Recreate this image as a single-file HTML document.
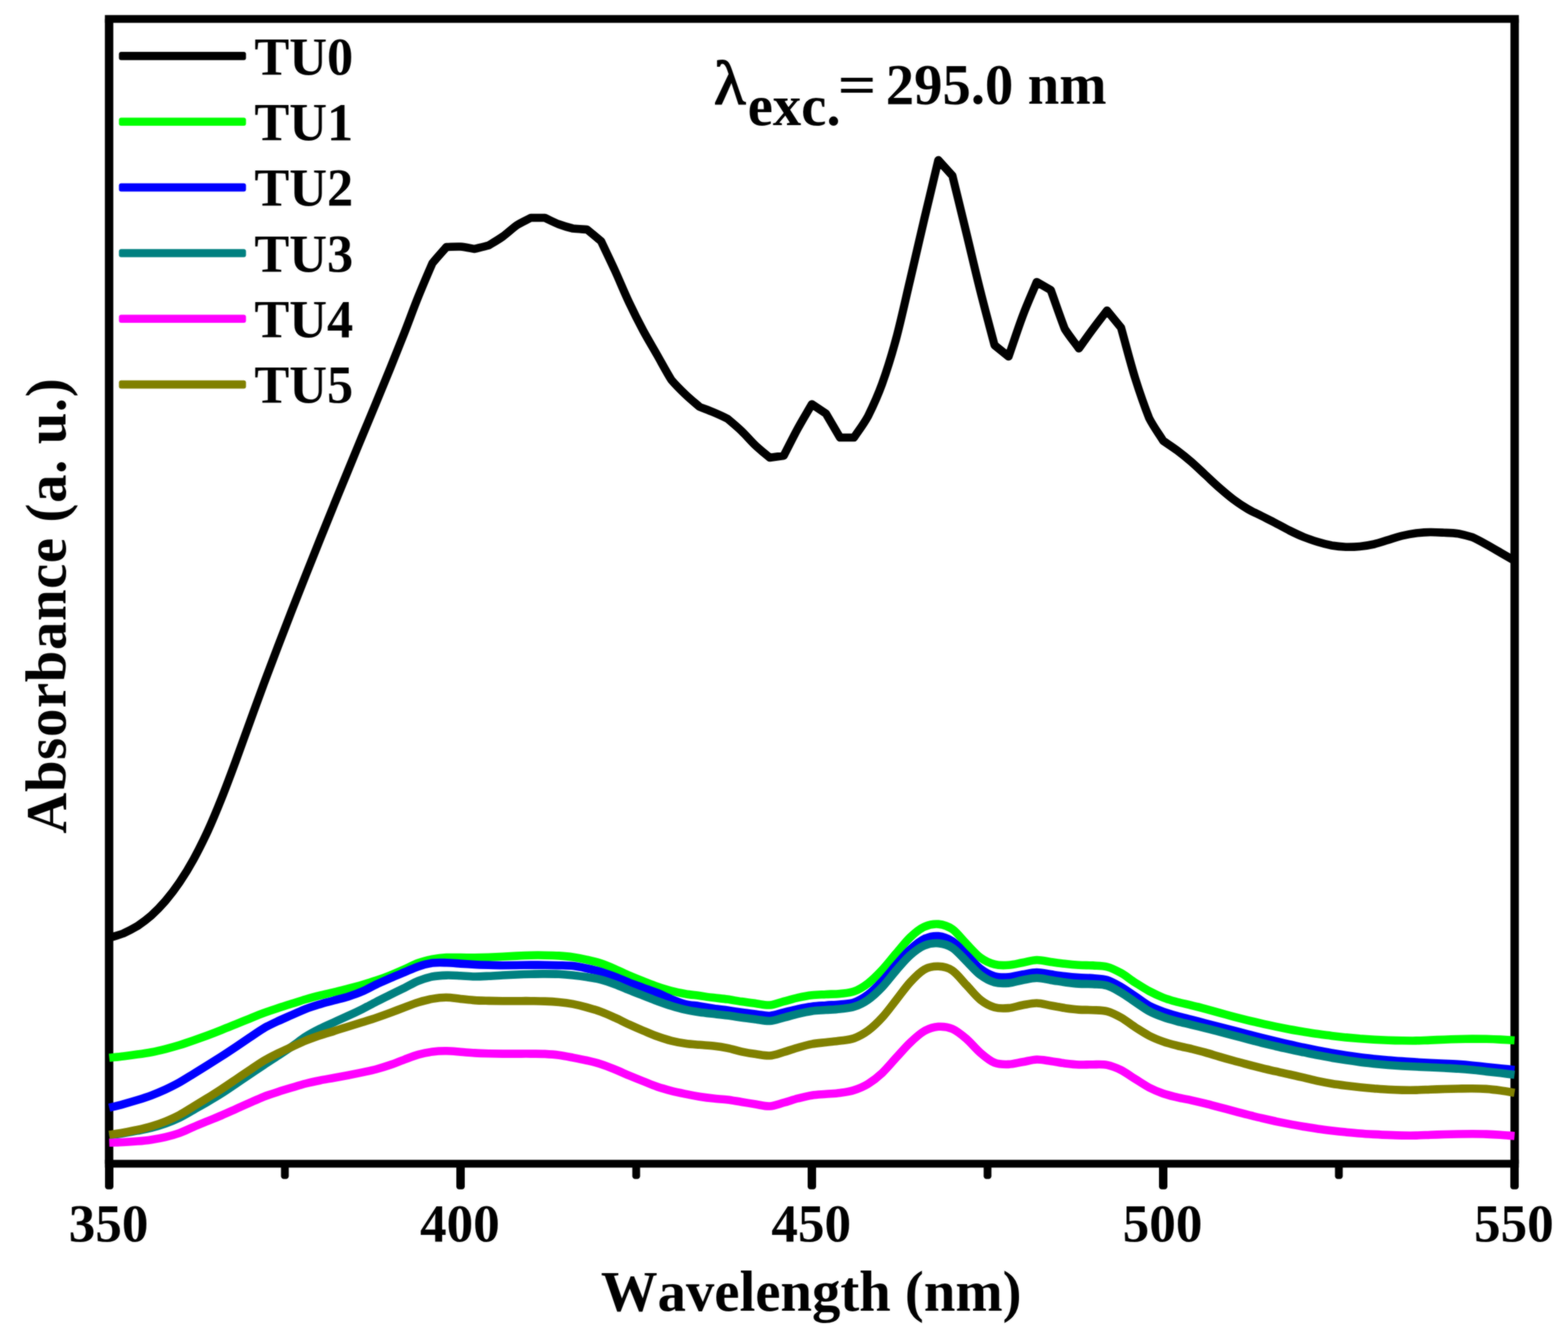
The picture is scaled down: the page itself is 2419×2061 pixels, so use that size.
<!DOCTYPE html>
<html lang="en"><head><meta charset="utf-8"><title>Emission spectra TU0-TU5</title>
<style>html,body{margin:0;padding:0;background:#fff;width:2419px;height:2061px;overflow:hidden}svg{display:block}text{font-family:"Liberation Serif","DejaVu Serif",serif;font-weight:bold;fill:#000;font-kerning:none;font-variant-ligatures:none}.c{fill:none;stroke-linejoin:round;stroke-linecap:butt}</style></head><body>
<svg xmlns="http://www.w3.org/2000/svg" width="2419" height="2061" viewBox="0 0 2419 2061">
<rect width="2419" height="2061" fill="#fff"/>
<defs><filter id="soft" x="0" y="0" width="100%" height="100%" filterUnits="userSpaceOnUse" primitiveUnits="userSpaceOnUse" color-interpolation-filters="sRGB"><feGaussianBlur stdDeviation="0.9" result="b"/><feComposite in="b" in2="SourceGraphic" operator="arithmetic" k1="0" k2="0.55" k3="0.45" k4="0"/></filter></defs>
<g id="plot" filter="url(#soft)">
<g id="frame" stroke="#000" fill="none">
<line x1="161.8" y1="29.3" x2="2343.2" y2="29.3" stroke-width="12.0"/>
<line x1="161.8" y1="1795.2" x2="2343.2" y2="1795.2" stroke-width="12.0"/>
<line x1="168.3" y1="29.3" x2="168.3" y2="1795.2" stroke-width="13.0"/>
<line x1="2336.7" y1="29.3" x2="2336.7" y2="1795.2" stroke-width="13.0"/>
</g>
<g id="ticks" fill="#000">
<rect x="162.0" y="1795.2" width="13.0" height="39.6" rx="4.5"/>
<rect x="704.0" y="1795.2" width="13.0" height="39.6" rx="4.5"/>
<rect x="1246.0" y="1795.2" width="13.0" height="39.6" rx="4.5"/>
<rect x="1788.0" y="1795.2" width="13.0" height="39.6" rx="4.5"/>
<rect x="2330.0" y="1795.2" width="13.0" height="39.6" rx="4.5"/>
<rect x="433.5" y="1795.2" width="12" height="23.6" rx="4.5"/>
<rect x="975.5" y="1795.2" width="12" height="23.6" rx="4.5"/>
<rect x="1517.5" y="1795.2" width="12" height="23.6" rx="4.5"/>
<rect x="2059.5" y="1795.2" width="12" height="23.6" rx="4.5"/>
</g>
<g id="curves" class="c" stroke-width="12.6">
<path stroke="#000" d="M168.5,1446.8 C175.7,1444.6 183.0,1442.8 190.2,1440.0 C197.4,1436.7 204.6,1433.1 211.9,1428.7 C219.1,1423.8 226.3,1418.5 233.5,1412.2 C240.8,1405.6 248.0,1398.3 255.2,1389.9 C262.4,1381.4 269.7,1372.0 276.9,1361.3 C284.1,1350.6 291.4,1338.9 298.6,1325.7 C305.8,1312.6 313.0,1298.2 320.3,1282.5 C327.5,1266.7 334.7,1249.3 341.9,1231.3 C349.2,1213.2 356.4,1193.7 363.6,1174.2 C370.8,1154.7 378.1,1134.2 385.3,1114.3 C392.5,1094.4 399.8,1074.3 407.0,1054.8 C414.2,1035.4 421.4,1016.3 428.7,997.5 C435.9,978.6 443.1,960.0 450.3,941.5 C457.6,923.0 464.8,904.7 472.0,886.5 C479.2,868.3 486.5,850.2 493.7,832.2 C500.9,814.2 508.2,796.3 515.4,778.5 C522.6,760.8 529.8,743.1 537.1,725.5 C544.3,707.9 551.5,690.5 558.7,673.0 C566.0,655.6 573.2,638.3 580.4,620.8 C587.6,603.3 594.9,585.8 602.1,568.0 C609.3,550.1 616.6,532.1 623.8,513.6 C631.0,495.2 638.2,475.2 645.5,457.2 C652.7,439.3 659.9,422.5 667.1,406.0 C674.4,397.0 681.6,389.3 688.8,381.0 C696.0,380.8 703.3,380.2 710.5,380.5 C717.7,381.2 725.0,382.8 732.2,384.0 C739.4,382.2 746.6,380.6 753.9,378.5 C761.1,374.2 768.3,370.1 775.5,365.0 C782.8,359.8 790.0,352.7 797.2,347.5 C804.4,343.0 811.7,339.8 818.9,336.0 L840.6,336.0 C847.8,339.3 855.0,343.2 862.3,346.0 C869.5,348.7 876.7,350.8 883.9,352.5 C891.2,353.4 898.4,353.5 905.6,354.0 L927.3,372.0 C934.5,387.3 941.8,402.2 949.0,418.0 C956.2,433.8 963.4,451.7 970.7,467.0 C977.9,482.3 985.1,496.5 992.3,510.0 C999.6,523.5 1006.8,535.3 1014.0,548.0 C1021.2,560.7 1028.5,574.4 1035.7,586.0 C1042.9,594.6 1050.2,601.6 1057.4,608.5 C1064.6,615.4 1071.8,621.2 1079.1,627.5 C1086.3,630.4 1093.5,632.9 1100.7,636.0 C1108.0,639.1 1115.2,642.3 1122.4,646.0 C1129.6,652.0 1136.9,658.1 1144.1,665.0 C1151.3,671.9 1158.6,680.7 1165.8,687.5 C1173.0,694.3 1180.2,699.8 1187.5,706.0 L1209.1,703.0 C1216.4,689.0 1223.6,674.2 1230.8,661.0 C1238.0,647.8 1245.3,636.0 1252.5,623.5 L1274.2,638.0 L1295.9,675.0 L1317.5,675.0 C1324.8,664.0 1332.0,655.1 1339.2,642.0 C1346.4,627.4 1353.7,611.9 1360.9,592.0 C1368.1,571.9 1375.4,548.8 1382.6,522.0 C1389.8,495.2 1397.0,461.7 1404.3,431.0 C1411.5,400.3 1418.7,368.7 1425.9,338.0 C1433.2,307.3 1440.4,277.3 1447.6,247.0 L1469.3,271.0 C1476.5,300.7 1483.8,330.2 1491.0,360.0 C1498.2,389.8 1505.4,421.2 1512.7,450.0 C1519.9,478.8 1527.1,505.0 1534.3,532.5 L1556.0,550.0 C1563.2,529.2 1570.5,506.7 1577.7,487.5 C1584.9,468.3 1592.2,452.5 1599.4,435.0 L1621.1,447.5 C1628.3,467.5 1635.5,488.9 1642.7,507.5 C1650.0,518.9 1657.2,527.5 1664.4,537.5 C1671.6,527.5 1678.9,517.2 1686.1,507.5 C1693.3,497.8 1700.6,488.5 1707.8,479.0 L1729.5,505.5 C1736.7,531.3 1743.9,559.8 1751.1,583.0 C1758.4,606.2 1765.6,626.7 1772.8,645.0 C1780.0,659.1 1787.3,668.3 1794.5,680.0 C1801.7,685.0 1809.0,689.6 1816.2,695.0 C1823.4,700.4 1830.6,706.2 1837.9,712.5 C1845.1,718.8 1852.3,725.8 1859.5,732.5 C1866.8,739.2 1874.0,746.2 1881.2,752.5 C1888.4,758.8 1895.7,765.1 1902.9,770.5 C1910.1,775.9 1917.4,780.7 1924.6,785.0 C1931.8,789.2 1939.0,792.3 1946.3,796.0 C1953.5,799.7 1960.7,803.2 1967.9,807.0 C1975.2,810.8 1982.4,814.9 1989.6,818.5 C1996.8,822.1 2004.1,825.6 2011.3,828.5 C2018.5,831.4 2025.8,833.8 2033.0,836.0 C2040.2,838.2 2047.4,840.1 2054.7,841.5 C2061.9,842.7 2069.1,843.4 2076.3,843.8 C2083.6,843.9 2090.8,843.7 2098.0,843.0 C2105.2,842.3 2112.5,841.1 2119.7,839.5 C2126.9,837.8 2134.2,835.2 2141.4,833.0 C2148.6,830.8 2155.8,828.3 2163.1,826.5 C2170.3,824.8 2177.5,823.4 2184.7,822.5 C2192.0,821.6 2199.2,821.1 2206.4,821.0 C2213.6,820.9 2220.9,821.4 2228.1,821.8 C2235.3,822.1 2242.6,822.3 2249.8,823.2 C2257.0,824.6 2264.2,826.5 2271.5,828.8 C2278.7,832.0 2285.9,836.0 2293.1,840.0 C2300.4,844.0 2307.6,848.3 2314.8,852.5 C2322.0,856.7 2329.3,860.8 2336.5,865.0"/>
<path stroke="#00ff00" d="M168.5,1631.8 C175.7,1631.0 183.0,1630.3 190.2,1629.4 C197.4,1628.6 204.6,1627.7 211.9,1626.6 C219.1,1625.6 226.3,1624.6 233.5,1623.2 C240.8,1621.8 248.0,1620.1 255.2,1618.3 C262.4,1616.5 269.7,1614.5 276.9,1612.3 C284.1,1610.0 291.4,1607.5 298.6,1605.0 C305.8,1602.4 313.0,1599.8 320.3,1597.2 C327.5,1594.5 334.7,1591.7 341.9,1588.8 C349.2,1586.0 356.4,1583.0 363.6,1580.1 C370.8,1577.2 378.1,1574.2 385.3,1571.3 C392.5,1568.4 399.8,1565.4 407.0,1562.7 C414.2,1560.0 421.4,1557.6 428.7,1555.2 C435.9,1552.8 443.1,1550.6 450.3,1548.3 C457.6,1546.0 464.8,1543.6 472.0,1541.5 C479.2,1539.4 486.5,1537.5 493.7,1535.7 C500.9,1533.9 508.2,1532.3 515.4,1530.5 C522.6,1528.7 529.8,1527.0 537.1,1525.1 C544.3,1523.2 551.5,1521.3 558.7,1519.2 C566.0,1517.1 573.2,1515.0 580.4,1512.6 C587.6,1510.1 594.9,1507.4 602.1,1504.5 C609.3,1501.6 616.6,1498.5 623.8,1495.3 C631.0,1492.1 638.2,1488.1 645.5,1485.5 C652.7,1482.9 659.9,1481.2 667.1,1479.8 C674.4,1478.4 681.6,1477.5 688.8,1477.1 C696.0,1476.7 703.3,1477.1 710.5,1477.1 C717.7,1477.1 725.0,1477.4 732.2,1477.3 C739.4,1477.2 746.6,1477.0 753.9,1476.7 C761.1,1476.4 768.3,1476.0 775.5,1475.7 C782.8,1475.3 790.0,1474.9 797.2,1474.6 C804.4,1474.2 811.7,1473.8 818.9,1473.7 C826.1,1473.5 833.4,1473.5 840.6,1473.7 C847.8,1473.8 855.0,1473.9 862.3,1474.4 C869.5,1474.9 876.7,1475.5 883.9,1476.6 C891.2,1477.6 898.4,1479.0 905.6,1480.6 C912.8,1482.2 920.1,1483.8 927.3,1486.2 C934.5,1488.5 941.8,1491.7 949.0,1494.9 C956.2,1498.0 963.4,1501.8 970.7,1504.9 C977.9,1508.1 985.1,1510.9 992.3,1513.7 C999.6,1516.5 1006.8,1519.4 1014.0,1521.9 C1021.2,1524.4 1028.5,1526.8 1035.7,1528.6 C1042.9,1530.5 1050.2,1531.9 1057.4,1533.2 C1064.6,1534.4 1071.8,1535.1 1079.1,1536.1 C1086.3,1537.1 1093.5,1538.2 1100.7,1539.1 C1108.0,1540.0 1115.2,1540.6 1122.4,1541.6 C1129.6,1542.6 1136.9,1544.1 1144.1,1545.1 C1151.3,1546.2 1158.6,1547.1 1165.8,1548.0 C1173.0,1548.9 1180.2,1551.0 1187.5,1550.5 C1194.7,1550.0 1201.9,1546.8 1209.1,1544.9 C1216.4,1543.0 1223.6,1540.8 1230.8,1539.2 C1238.0,1537.6 1245.3,1536.1 1252.5,1535.3 C1259.7,1534.4 1267.0,1534.4 1274.2,1534.0 C1281.4,1533.6 1288.6,1533.6 1295.9,1532.9 C1303.1,1532.1 1310.3,1532.1 1317.5,1529.4 C1324.8,1526.8 1332.0,1522.4 1339.2,1516.9 C1346.4,1511.4 1353.7,1504.1 1360.9,1496.4 C1368.1,1488.7 1375.4,1479.1 1382.6,1470.7 C1389.8,1462.3 1397.0,1452.7 1404.3,1445.8 C1411.5,1439.0 1418.7,1433.0 1425.9,1429.7 C1433.2,1426.3 1440.4,1425.0 1447.6,1425.6 C1454.8,1426.3 1462.1,1428.3 1469.3,1433.4 C1476.5,1438.5 1483.8,1448.7 1491.0,1456.0 C1498.2,1463.4 1505.4,1472.1 1512.7,1477.4 C1519.9,1482.7 1527.1,1485.8 1534.3,1487.7 C1541.6,1489.6 1548.8,1489.3 1556.0,1488.8 C1563.2,1488.4 1570.5,1486.3 1577.7,1485.0 C1584.9,1483.7 1592.2,1481.2 1599.4,1481.0 C1606.6,1480.8 1613.8,1482.9 1621.1,1483.9 C1628.3,1484.9 1635.5,1486.0 1642.7,1486.8 C1650.0,1487.7 1657.2,1488.4 1664.4,1488.8 C1671.6,1489.3 1678.9,1489.0 1686.1,1489.4 C1693.3,1489.9 1700.6,1489.6 1707.8,1491.5 C1715.0,1493.4 1722.2,1497.0 1729.5,1501.1 C1736.7,1505.1 1743.9,1511.1 1751.1,1515.7 C1758.4,1520.3 1765.6,1525.0 1772.8,1528.9 C1780.0,1532.7 1787.3,1536.2 1794.5,1539.0 C1801.7,1541.8 1809.0,1543.7 1816.2,1545.7 C1823.4,1547.6 1830.6,1549.0 1837.9,1550.8 C1845.1,1552.5 1852.3,1554.4 1859.5,1556.3 C1866.8,1558.3 1874.0,1560.4 1881.2,1562.4 C1888.4,1564.4 1895.7,1566.4 1902.9,1568.3 C1910.1,1570.1 1917.4,1572.0 1924.6,1573.8 C1931.8,1575.6 1939.0,1577.3 1946.3,1578.9 C1953.5,1580.6 1960.7,1582.1 1967.9,1583.6 C1975.2,1585.1 1982.4,1586.6 1989.6,1588.0 C1996.8,1589.3 2004.1,1590.5 2011.3,1591.7 C2018.5,1592.9 2025.8,1594.1 2033.0,1595.1 C2040.2,1596.1 2047.4,1597.1 2054.7,1597.9 C2061.9,1598.8 2069.1,1599.6 2076.3,1600.4 C2083.6,1601.1 2090.8,1601.7 2098.0,1602.3 C2105.2,1602.8 2112.5,1603.3 2119.7,1603.7 C2126.9,1604.1 2134.2,1604.4 2141.4,1604.7 C2148.6,1605.0 2155.8,1605.2 2163.1,1605.3 C2170.3,1605.4 2177.5,1605.5 2184.7,1605.4 C2192.0,1605.3 2199.2,1604.8 2206.4,1604.6 C2213.6,1604.3 2220.9,1604.0 2228.1,1603.7 C2235.3,1603.4 2242.6,1603.2 2249.8,1603.0 C2257.0,1602.8 2264.2,1602.6 2271.5,1602.5 C2278.7,1602.5 2285.9,1602.5 2293.1,1602.7 C2300.4,1602.9 2307.6,1603.2 2314.8,1603.6 C2322.0,1604.0 2329.3,1604.5 2336.5,1605.0"/>
<path stroke="#0000ff" d="M168.5,1708.8 C175.7,1707.0 183.0,1705.2 190.2,1703.3 C197.4,1701.3 204.6,1699.2 211.9,1697.0 C219.1,1694.8 226.3,1692.6 233.5,1689.8 C240.8,1687.1 248.0,1684.1 255.2,1680.8 C262.4,1677.4 269.7,1673.8 276.9,1669.8 C284.1,1665.7 291.4,1661.0 298.6,1656.6 C305.8,1652.1 313.0,1647.7 320.3,1643.2 C327.5,1638.7 334.7,1634.1 341.9,1629.5 C349.2,1624.8 356.4,1620.0 363.6,1615.2 C370.8,1610.3 378.1,1605.4 385.3,1600.6 C392.5,1595.7 399.8,1590.4 407.0,1586.2 C414.2,1582.0 421.4,1578.7 428.7,1575.3 C435.9,1571.9 443.1,1568.9 450.3,1565.7 C457.6,1562.6 464.8,1559.1 472.0,1556.3 C479.2,1553.6 486.5,1551.4 493.7,1549.2 C500.9,1547.0 508.2,1545.3 515.4,1543.3 C522.6,1541.3 529.8,1539.7 537.1,1537.4 C544.3,1535.1 551.5,1532.8 558.7,1529.6 C566.0,1526.5 573.2,1522.1 580.4,1518.7 C587.6,1515.2 594.9,1512.2 602.1,1509.0 C609.3,1505.9 616.6,1502.9 623.8,1499.9 C631.0,1496.9 638.2,1493.4 645.5,1491.0 C652.7,1488.6 659.9,1486.6 667.1,1485.6 C674.4,1484.6 681.6,1485.0 688.8,1485.2 C696.0,1485.4 703.3,1486.1 710.5,1486.6 C717.7,1487.1 725.0,1487.6 732.2,1488.0 C739.4,1488.4 746.6,1488.6 753.9,1488.8 C761.1,1489.0 768.3,1489.2 775.5,1489.2 C782.8,1489.2 790.0,1489.1 797.2,1489.0 C804.4,1488.9 811.7,1488.7 818.9,1488.6 C826.1,1488.6 833.4,1488.7 840.6,1488.8 C847.8,1488.9 855.0,1489.0 862.3,1489.2 C869.5,1489.4 876.7,1489.4 883.9,1490.1 C891.2,1490.9 898.4,1492.5 905.6,1494.0 C912.8,1495.5 920.1,1497.2 927.3,1499.3 C934.5,1501.5 941.8,1504.2 949.0,1506.9 C956.2,1509.7 963.4,1513.0 970.7,1515.8 C977.9,1518.6 985.1,1521.1 992.3,1523.8 C999.6,1526.4 1006.8,1528.7 1014.0,1531.6 C1021.2,1534.6 1028.5,1538.5 1035.7,1541.3 C1042.9,1544.2 1050.2,1547.2 1057.4,1549.0 C1064.6,1550.8 1071.8,1551.0 1079.1,1552.2 C1086.3,1553.3 1093.5,1554.5 1100.7,1555.6 C1108.0,1556.7 1115.2,1557.6 1122.4,1558.6 C1129.6,1559.6 1136.9,1560.7 1144.1,1561.7 C1151.3,1562.7 1158.6,1563.6 1165.8,1564.5 C1173.0,1565.4 1180.2,1567.4 1187.5,1567.0 C1194.7,1566.6 1201.9,1563.6 1209.1,1561.9 C1216.4,1560.1 1223.6,1558.1 1230.8,1556.6 C1238.0,1555.1 1245.3,1553.6 1252.5,1552.7 C1259.7,1551.8 1267.0,1551.5 1274.2,1551.0 C1281.4,1550.4 1288.6,1550.2 1295.9,1549.4 C1303.1,1548.7 1310.3,1549.0 1317.5,1546.5 C1324.8,1544.0 1332.0,1539.8 1339.2,1534.4 C1346.4,1529.0 1353.7,1521.5 1360.9,1513.9 C1368.1,1506.3 1375.4,1496.8 1382.6,1488.5 C1389.8,1480.3 1397.0,1471.3 1404.3,1464.7 C1411.5,1458.0 1418.7,1451.8 1425.9,1448.4 C1433.2,1445.0 1440.4,1443.5 1447.6,1444.1 C1454.8,1444.8 1462.1,1447.3 1469.3,1452.1 C1476.5,1457.0 1483.8,1465.9 1491.0,1473.0 C1498.2,1480.1 1505.4,1489.1 1512.7,1494.6 C1519.9,1500.1 1527.1,1503.9 1534.3,1506.0 C1541.6,1508.1 1548.8,1507.7 1556.0,1507.3 C1563.2,1506.8 1570.5,1504.5 1577.7,1503.3 C1584.9,1502.1 1592.2,1500.0 1599.4,1500.0 C1606.6,1500.0 1613.8,1502.1 1621.1,1503.1 C1628.3,1504.1 1635.5,1505.2 1642.7,1506.0 C1650.0,1506.9 1657.2,1507.6 1664.4,1508.1 C1671.6,1508.6 1678.9,1508.4 1686.1,1509.1 C1693.3,1509.7 1700.6,1509.6 1707.8,1511.8 C1715.0,1514.1 1722.2,1518.3 1729.5,1522.4 C1736.7,1526.6 1743.9,1531.9 1751.1,1536.7 C1758.4,1541.6 1765.6,1547.4 1772.8,1551.4 C1780.0,1555.3 1787.3,1558.0 1794.5,1560.6 C1801.7,1563.3 1809.0,1565.3 1816.2,1567.3 C1823.4,1569.4 1830.6,1571.0 1837.9,1572.9 C1845.1,1574.8 1852.3,1576.6 1859.5,1578.5 C1866.8,1580.4 1874.0,1582.3 1881.2,1584.2 C1888.4,1586.0 1895.7,1587.9 1902.9,1589.7 C1910.1,1591.6 1917.4,1593.5 1924.6,1595.3 C1931.8,1597.2 1939.0,1599.0 1946.3,1600.8 C1953.5,1602.6 1960.7,1604.4 1967.9,1606.1 C1975.2,1607.9 1982.4,1609.6 1989.6,1611.2 C1996.8,1612.9 2004.1,1614.4 2011.3,1616.0 C2018.5,1617.5 2025.8,1619.0 2033.0,1620.4 C2040.2,1621.8 2047.4,1623.1 2054.7,1624.4 C2061.9,1625.6 2069.1,1626.8 2076.3,1627.9 C2083.6,1629.0 2090.8,1630.0 2098.0,1630.9 C2105.2,1631.8 2112.5,1632.6 2119.7,1633.4 C2126.9,1634.1 2134.2,1634.8 2141.4,1635.5 C2148.6,1636.1 2155.8,1636.6 2163.1,1637.1 C2170.3,1637.7 2177.5,1638.1 2184.7,1638.6 C2192.0,1639.0 2199.2,1639.4 2206.4,1639.8 C2213.6,1640.2 2220.9,1640.4 2228.1,1640.8 C2235.3,1641.1 2242.6,1641.4 2249.8,1641.9 C2257.0,1642.4 2264.2,1643.0 2271.5,1643.7 C2278.7,1644.4 2285.9,1645.2 2293.1,1645.9 C2300.4,1646.7 2307.6,1647.4 2314.8,1648.2 C2322.0,1648.9 2329.3,1649.7 2336.5,1650.5"/>
<path stroke="#008080" d="M168.5,1751.5 C175.7,1750.4 183.0,1749.4 190.2,1748.2 C197.4,1747.0 204.6,1745.8 211.9,1744.4 C219.1,1743.0 226.3,1741.7 233.5,1739.9 C240.8,1738.0 248.0,1735.9 255.2,1733.3 C262.4,1730.7 269.7,1727.8 276.9,1724.3 C284.1,1720.8 291.4,1716.3 298.6,1712.2 C305.8,1708.1 313.0,1704.1 320.3,1699.8 C327.5,1695.6 334.7,1691.4 341.9,1686.8 C349.2,1682.2 356.4,1677.1 363.6,1672.3 C370.8,1667.4 378.1,1662.4 385.3,1657.6 C392.5,1652.7 399.8,1647.8 407.0,1643.0 C414.2,1638.2 421.4,1633.6 428.7,1628.8 C435.9,1624.0 443.1,1619.3 450.3,1614.3 C457.6,1609.3 464.8,1603.5 472.0,1598.9 C479.2,1594.4 486.5,1590.6 493.7,1587.0 C500.9,1583.3 508.2,1580.3 515.4,1577.0 C522.6,1573.7 529.8,1570.5 537.1,1567.1 C544.3,1563.8 551.5,1560.4 558.7,1556.8 C566.0,1553.1 573.2,1549.2 580.4,1545.5 C587.6,1541.8 594.9,1538.3 602.1,1534.7 C609.3,1531.1 616.6,1527.6 623.8,1524.1 C631.0,1520.5 638.2,1516.0 645.5,1513.1 C652.7,1510.2 659.9,1507.9 667.1,1506.5 C674.4,1505.1 681.6,1504.8 688.8,1504.6 C696.0,1504.4 703.3,1504.9 710.5,1505.2 C717.7,1505.6 725.0,1506.4 732.2,1506.5 C739.4,1506.6 746.6,1506.1 753.9,1505.7 C761.1,1505.4 768.3,1504.9 775.5,1504.5 C782.8,1504.1 790.0,1503.8 797.2,1503.5 C804.4,1503.2 811.7,1502.9 818.9,1502.7 C826.1,1502.5 833.4,1502.3 840.6,1502.4 C847.8,1502.4 855.0,1502.4 862.3,1502.8 C869.5,1503.2 876.7,1503.8 883.9,1504.5 C891.2,1505.3 898.4,1506.2 905.6,1507.3 C912.8,1508.4 920.1,1509.4 927.3,1511.3 C934.5,1513.2 941.8,1515.8 949.0,1518.5 C956.2,1521.2 963.4,1524.6 970.7,1527.5 C977.9,1530.4 985.1,1533.1 992.3,1535.9 C999.6,1538.7 1006.8,1541.6 1014.0,1544.3 C1021.2,1546.9 1028.5,1549.6 1035.7,1551.8 C1042.9,1554.0 1050.2,1556.1 1057.4,1557.7 C1064.6,1559.3 1071.8,1560.5 1079.1,1561.6 C1086.3,1562.6 1093.5,1563.3 1100.7,1564.1 C1108.0,1564.9 1115.2,1565.6 1122.4,1566.6 C1129.6,1567.5 1136.9,1568.7 1144.1,1569.7 C1151.3,1570.7 1158.6,1571.6 1165.8,1572.5 C1173.0,1573.4 1180.2,1575.4 1187.5,1575.0 C1194.7,1574.6 1201.9,1571.7 1209.1,1569.9 C1216.4,1568.1 1223.6,1565.8 1230.8,1564.1 C1238.0,1562.4 1245.3,1560.7 1252.5,1559.7 C1259.7,1558.7 1267.0,1558.6 1274.2,1558.0 C1281.4,1557.5 1288.6,1557.3 1295.9,1556.4 C1303.1,1555.6 1310.3,1555.5 1317.5,1553.1 C1324.8,1550.8 1332.0,1547.4 1339.2,1542.3 C1346.4,1537.3 1353.7,1530.5 1360.9,1522.9 C1368.1,1515.4 1375.4,1505.2 1382.6,1497.0 C1389.8,1488.8 1397.0,1480.0 1404.3,1473.6 C1411.5,1467.2 1418.7,1461.8 1425.9,1458.7 C1433.2,1455.6 1440.4,1454.5 1447.6,1455.1 C1454.8,1455.7 1462.1,1457.5 1469.3,1462.2 C1476.5,1466.8 1483.8,1475.9 1491.0,1482.9 C1498.2,1490.0 1505.4,1498.9 1512.7,1504.3 C1519.9,1509.7 1527.1,1513.5 1534.3,1515.5 C1541.6,1517.6 1548.8,1517.2 1556.0,1516.6 C1563.2,1516.0 1570.5,1513.3 1577.7,1512.0 C1584.9,1510.7 1592.2,1508.8 1599.4,1508.8 C1606.6,1508.7 1613.8,1510.8 1621.1,1511.9 C1628.3,1512.9 1635.5,1514.3 1642.7,1515.3 C1650.0,1516.2 1657.2,1517.1 1664.4,1517.6 C1671.6,1518.1 1678.9,1517.7 1686.1,1518.2 C1693.3,1518.7 1700.6,1518.3 1707.8,1520.5 C1715.0,1522.6 1722.2,1527.0 1729.5,1531.2 C1736.7,1535.4 1743.9,1541.0 1751.1,1545.7 C1758.4,1550.5 1765.6,1556.0 1772.8,1559.9 C1780.0,1563.8 1787.3,1566.5 1794.5,1569.2 C1801.7,1571.8 1809.0,1573.7 1816.2,1575.6 C1823.4,1577.5 1830.6,1579.0 1837.9,1580.8 C1845.1,1582.6 1852.3,1584.4 1859.5,1586.2 C1866.8,1588.0 1874.0,1589.8 1881.2,1591.7 C1888.4,1593.5 1895.7,1595.4 1902.9,1597.3 C1910.1,1599.2 1917.4,1601.2 1924.6,1603.1 C1931.8,1605.0 1939.0,1607.0 1946.3,1608.8 C1953.5,1610.6 1960.7,1612.3 1967.9,1614.0 C1975.2,1615.7 1982.4,1617.2 1989.6,1618.8 C1996.8,1620.4 2004.1,1621.9 2011.3,1623.4 C2018.5,1624.9 2025.8,1626.5 2033.0,1627.9 C2040.2,1629.3 2047.4,1630.6 2054.7,1631.9 C2061.9,1633.1 2069.1,1634.3 2076.3,1635.4 C2083.6,1636.5 2090.8,1637.5 2098.0,1638.4 C2105.2,1639.3 2112.5,1640.1 2119.7,1640.9 C2126.9,1641.7 2134.2,1642.4 2141.4,1643.0 C2148.6,1643.6 2155.8,1644.1 2163.1,1644.5 C2170.3,1644.9 2177.5,1645.2 2184.7,1645.5 C2192.0,1645.8 2199.2,1646.2 2206.4,1646.5 C2213.6,1646.8 2220.9,1647.1 2228.1,1647.5 C2235.3,1647.9 2242.6,1648.2 2249.8,1648.7 C2257.0,1649.2 2264.2,1649.8 2271.5,1650.5 C2278.7,1651.2 2285.9,1652.1 2293.1,1652.9 C2300.4,1653.7 2307.6,1654.5 2314.8,1655.3 C2322.0,1656.2 2329.3,1657.1 2336.5,1658.0"/>
<path stroke="#ff00ff" d="M168.5,1762.8 C175.7,1762.5 183.0,1762.4 190.2,1762.0 C197.4,1761.7 204.6,1761.3 211.9,1760.6 C219.1,1760.0 226.3,1759.3 233.5,1758.2 C240.8,1757.1 248.0,1755.8 255.2,1754.1 C262.4,1752.4 269.7,1750.5 276.9,1747.9 C284.1,1745.3 291.4,1741.5 298.6,1738.5 C305.8,1735.4 313.0,1732.5 320.3,1729.5 C327.5,1726.5 334.7,1723.7 341.9,1720.6 C349.2,1717.5 356.4,1714.2 363.6,1711.0 C370.8,1707.7 378.1,1704.5 385.3,1701.3 C392.5,1698.1 399.8,1694.7 407.0,1691.8 C414.2,1689.0 421.4,1686.7 428.7,1684.4 C435.9,1682.0 443.1,1679.9 450.3,1677.8 C457.6,1675.6 464.8,1673.3 472.0,1671.5 C479.2,1669.6 486.5,1668.1 493.7,1666.7 C500.9,1665.2 508.2,1664.1 515.4,1662.7 C522.6,1661.4 529.8,1660.1 537.1,1658.7 C544.3,1657.3 551.5,1655.9 558.7,1654.4 C566.0,1652.8 573.2,1651.4 580.4,1649.5 C587.6,1647.5 594.9,1645.3 602.1,1642.8 C609.3,1640.3 616.6,1637.2 623.8,1634.6 C631.0,1631.9 638.2,1628.9 645.5,1626.9 C652.7,1624.9 659.9,1623.4 667.1,1622.5 C674.4,1621.5 681.6,1621.2 688.8,1621.3 C696.0,1621.3 703.3,1622.2 710.5,1622.8 C717.7,1623.3 725.0,1624.0 732.2,1624.4 C739.4,1624.8 746.6,1625.0 753.9,1625.2 C761.1,1625.4 768.3,1625.5 775.5,1625.6 C782.8,1625.7 790.0,1625.6 797.2,1625.6 C804.4,1625.6 811.7,1625.5 818.9,1625.6 C826.1,1625.7 833.4,1625.5 840.6,1625.9 C847.8,1626.3 855.0,1626.8 862.3,1627.8 C869.5,1628.7 876.7,1630.2 883.9,1631.6 C891.2,1633.0 898.4,1634.4 905.6,1636.0 C912.8,1637.7 920.1,1639.4 927.3,1641.7 C934.5,1644.0 941.8,1647.0 949.0,1649.9 C956.2,1652.8 963.4,1656.2 970.7,1659.3 C977.9,1662.3 985.1,1665.2 992.3,1668.0 C999.6,1670.9 1006.8,1674.0 1014.0,1676.5 C1021.2,1678.9 1028.5,1680.9 1035.7,1682.8 C1042.9,1684.6 1050.2,1686.1 1057.4,1687.6 C1064.6,1689.1 1071.8,1690.5 1079.1,1691.7 C1086.3,1692.8 1093.5,1693.8 1100.7,1694.6 C1108.0,1695.4 1115.2,1695.6 1122.4,1696.5 C1129.6,1697.4 1136.9,1698.9 1144.1,1700.0 C1151.3,1701.2 1158.6,1702.4 1165.8,1703.5 C1173.0,1704.6 1180.2,1706.9 1187.5,1706.5 C1194.7,1706.1 1201.9,1703.0 1209.1,1701.0 C1216.4,1699.0 1223.6,1696.4 1230.8,1694.5 C1238.0,1692.7 1245.3,1690.8 1252.5,1689.7 C1259.7,1688.5 1267.0,1688.4 1274.2,1687.8 C1281.4,1687.2 1288.6,1687.0 1295.9,1686.0 C1303.1,1685.0 1310.3,1684.1 1317.5,1681.7 C1324.8,1679.4 1332.0,1676.5 1339.2,1672.1 C1346.4,1667.6 1353.7,1662.0 1360.9,1655.3 C1368.1,1648.5 1375.4,1639.5 1382.6,1631.6 C1389.8,1623.8 1397.0,1615.1 1404.3,1608.3 C1411.5,1601.4 1418.7,1594.7 1425.9,1590.6 C1433.2,1586.5 1440.4,1584.4 1447.6,1583.8 C1454.8,1583.3 1462.1,1584.2 1469.3,1587.3 C1476.5,1590.4 1483.8,1596.5 1491.0,1602.6 C1498.2,1608.8 1505.4,1618.2 1512.7,1624.3 C1519.9,1630.5 1527.1,1636.5 1534.3,1639.4 C1541.6,1642.4 1548.8,1642.1 1556.0,1641.9 C1563.2,1641.7 1570.5,1639.5 1577.7,1638.3 C1584.9,1637.1 1592.2,1634.7 1599.4,1634.5 C1606.6,1634.3 1613.8,1636.0 1621.1,1636.9 C1628.3,1637.9 1635.5,1639.5 1642.7,1640.4 C1650.0,1641.3 1657.2,1642.2 1664.4,1642.5 C1671.6,1642.8 1678.9,1642.1 1686.1,1642.2 C1693.3,1642.2 1700.6,1641.5 1707.8,1642.9 C1715.0,1644.4 1722.2,1647.2 1729.5,1650.7 C1736.7,1654.3 1743.9,1660.0 1751.1,1664.4 C1758.4,1668.9 1765.6,1673.9 1772.8,1677.7 C1780.0,1681.4 1787.3,1684.4 1794.5,1687.0 C1801.7,1689.5 1809.0,1691.1 1816.2,1692.9 C1823.4,1694.6 1830.6,1695.7 1837.9,1697.3 C1845.1,1698.9 1852.3,1700.6 1859.5,1702.4 C1866.8,1704.2 1874.0,1706.2 1881.2,1708.1 C1888.4,1710.0 1895.7,1711.9 1902.9,1713.8 C1910.1,1715.6 1917.4,1717.6 1924.6,1719.5 C1931.8,1721.3 1939.0,1723.2 1946.3,1724.9 C1953.5,1726.6 1960.7,1728.2 1967.9,1729.8 C1975.2,1731.3 1982.4,1732.8 1989.6,1734.2 C1996.8,1735.6 2004.1,1736.8 2011.3,1738.0 C2018.5,1739.2 2025.8,1740.3 2033.0,1741.4 C2040.2,1742.4 2047.4,1743.3 2054.7,1744.2 C2061.9,1745.1 2069.1,1745.9 2076.3,1746.6 C2083.6,1747.3 2090.8,1748.0 2098.0,1748.5 C2105.2,1749.1 2112.5,1749.5 2119.7,1749.9 C2126.9,1750.3 2134.2,1750.7 2141.4,1750.9 C2148.6,1751.2 2155.8,1751.5 2163.1,1751.6 C2170.3,1751.7 2177.5,1751.8 2184.7,1751.6 C2192.0,1751.5 2199.2,1751.0 2206.4,1750.7 C2213.6,1750.5 2220.9,1750.2 2228.1,1750.0 C2235.3,1749.8 2242.6,1749.6 2249.8,1749.5 C2257.0,1749.4 2264.2,1749.3 2271.5,1749.3 C2278.7,1749.3 2285.9,1749.3 2293.1,1749.6 C2300.4,1749.8 2307.6,1750.2 2314.8,1750.7 C2322.0,1751.2 2329.3,1751.9 2336.5,1752.5"/>
<path stroke="#808000" d="M168.5,1750.5 C175.7,1749.4 183.0,1748.5 190.2,1747.2 C197.4,1745.9 204.6,1744.6 211.9,1743.0 C219.1,1741.4 226.3,1739.7 233.5,1737.5 C240.8,1735.4 248.0,1732.9 255.2,1730.0 C262.4,1727.0 269.7,1723.8 276.9,1720.0 C284.1,1716.2 291.4,1711.3 298.6,1706.9 C305.8,1702.6 313.0,1698.2 320.3,1693.7 C327.5,1689.2 334.7,1684.8 341.9,1680.0 C349.2,1675.3 356.4,1670.3 363.6,1665.4 C370.8,1660.5 378.1,1655.5 385.3,1650.7 C392.5,1645.8 399.8,1640.6 407.0,1636.3 C414.2,1632.1 421.4,1628.6 428.7,1625.0 C435.9,1621.4 443.1,1618.2 450.3,1614.9 C457.6,1611.6 464.8,1608.0 472.0,1605.1 C479.2,1602.1 486.5,1599.7 493.7,1597.2 C500.9,1594.8 508.2,1592.8 515.4,1590.6 C522.6,1588.3 529.8,1586.0 537.1,1583.8 C544.3,1581.5 551.5,1579.2 558.7,1577.0 C566.0,1574.7 573.2,1572.6 580.4,1570.1 C587.6,1567.7 594.9,1565.1 602.1,1562.4 C609.3,1559.7 616.6,1556.8 623.8,1554.1 C631.0,1551.4 638.2,1548.5 645.5,1546.3 C652.7,1544.1 659.9,1542.1 667.1,1540.9 C674.4,1539.6 681.6,1538.7 688.8,1538.8 C696.0,1538.8 703.3,1540.2 710.5,1540.9 C717.7,1541.6 725.0,1542.6 732.2,1543.1 C739.4,1543.6 746.6,1543.7 753.9,1543.9 C761.1,1544.0 768.3,1544.1 775.5,1544.2 C782.8,1544.3 790.0,1544.2 797.2,1544.2 C804.4,1544.2 811.7,1544.1 818.9,1544.2 C826.1,1544.3 833.4,1544.3 840.6,1544.6 C847.8,1544.9 855.0,1545.3 862.3,1546.0 C869.5,1546.7 876.7,1547.6 883.9,1548.9 C891.2,1550.3 898.4,1552.1 905.6,1554.1 C912.8,1556.1 920.1,1558.1 927.3,1560.8 C934.5,1563.4 941.8,1566.8 949.0,1570.1 C956.2,1573.4 963.4,1577.3 970.7,1580.6 C977.9,1583.9 985.1,1587.0 992.3,1590.0 C999.6,1593.0 1006.8,1596.2 1014.0,1598.8 C1021.2,1601.4 1028.5,1603.8 1035.7,1605.6 C1042.9,1607.4 1050.2,1608.7 1057.4,1609.7 C1064.6,1610.8 1071.8,1611.2 1079.1,1611.8 C1086.3,1612.5 1093.5,1612.7 1100.7,1613.6 C1108.0,1614.4 1115.2,1615.4 1122.4,1616.9 C1129.6,1618.3 1136.9,1620.7 1144.1,1622.3 C1151.3,1623.8 1158.6,1625.0 1165.8,1626.0 C1173.0,1627.0 1180.2,1629.0 1187.5,1628.5 C1194.7,1628.0 1201.9,1625.1 1209.1,1623.0 C1216.4,1621.0 1223.6,1618.2 1230.8,1616.2 C1238.0,1614.1 1245.3,1611.9 1252.5,1610.6 C1259.7,1609.2 1267.0,1608.8 1274.2,1608.0 C1281.4,1607.1 1288.6,1606.7 1295.9,1605.6 C1303.1,1604.6 1310.3,1604.3 1317.5,1601.7 C1324.8,1599.1 1332.0,1595.2 1339.2,1589.9 C1346.4,1584.6 1353.7,1577.7 1360.9,1569.8 C1368.1,1561.9 1375.4,1551.8 1382.6,1542.6 C1389.8,1533.5 1397.0,1523.0 1404.3,1515.1 C1411.5,1507.3 1418.7,1499.7 1425.9,1495.7 C1433.2,1491.6 1440.4,1490.5 1447.6,1490.8 C1454.8,1491.0 1462.1,1492.4 1469.3,1497.2 C1476.5,1502.0 1483.8,1512.1 1491.0,1519.7 C1498.2,1527.2 1505.4,1536.8 1512.7,1542.5 C1519.9,1548.2 1527.1,1551.9 1534.3,1554.0 C1541.6,1556.1 1548.8,1555.7 1556.0,1555.1 C1563.2,1554.5 1570.5,1551.8 1577.7,1550.5 C1584.9,1549.3 1592.2,1547.4 1599.4,1547.5 C1606.6,1547.6 1613.8,1550.0 1621.1,1551.2 C1628.3,1552.5 1635.5,1554.0 1642.7,1555.1 C1650.0,1556.1 1657.2,1557.1 1664.4,1557.6 C1671.6,1558.1 1678.9,1557.7 1686.1,1558.2 C1693.3,1558.6 1700.6,1558.3 1707.8,1560.2 C1715.0,1562.2 1722.2,1565.8 1729.5,1569.8 C1736.7,1573.9 1743.9,1579.8 1751.1,1584.5 C1758.4,1589.1 1765.6,1593.9 1772.8,1597.7 C1780.0,1601.4 1787.3,1604.3 1794.5,1606.9 C1801.7,1609.5 1809.0,1611.3 1816.2,1613.1 C1823.4,1615.0 1830.6,1616.3 1837.9,1618.0 C1845.1,1619.8 1852.3,1621.6 1859.5,1623.6 C1866.8,1625.6 1874.0,1628.0 1881.2,1630.1 C1888.4,1632.2 1895.7,1634.3 1902.9,1636.3 C1910.1,1638.3 1917.4,1640.2 1924.6,1642.1 C1931.8,1644.0 1939.0,1645.8 1946.3,1647.6 C1953.5,1649.4 1960.7,1651.0 1967.9,1652.7 C1975.2,1654.3 1982.4,1655.8 1989.6,1657.5 C1996.8,1659.1 2004.1,1660.7 2011.3,1662.4 C2018.5,1664.1 2025.8,1666.1 2033.0,1667.7 C2040.2,1669.2 2047.4,1670.6 2054.7,1671.8 C2061.9,1673.0 2069.1,1673.9 2076.3,1674.8 C2083.6,1675.7 2090.8,1676.5 2098.0,1677.2 C2105.2,1677.9 2112.5,1678.6 2119.7,1679.2 C2126.9,1679.8 2134.2,1680.5 2141.4,1680.8 C2148.6,1681.2 2155.8,1681.5 2163.1,1681.6 C2170.3,1681.7 2177.5,1681.8 2184.7,1681.6 C2192.0,1681.5 2199.2,1681.0 2206.4,1680.7 C2213.6,1680.5 2220.9,1680.2 2228.1,1680.0 C2235.3,1679.8 2242.6,1679.6 2249.8,1679.5 C2257.0,1679.4 2264.2,1679.2 2271.5,1679.3 C2278.7,1679.3 2285.9,1679.4 2293.1,1679.9 C2300.4,1680.4 2307.6,1681.3 2314.8,1682.3 C2322.0,1683.3 2329.3,1684.6 2336.5,1685.8"/>
</g>
<g id="legend">
<rect x="183.5" y="80.10" width="196.0" height="12.6" rx="3.5" fill="#000"/>
<text transform="translate(392.4,114.70) scale(1,1.022)" font-size="80.7">TU0</text>
<rect x="183.5" y="181.45" width="196.0" height="12.6" rx="3.5" fill="#00ff00"/>
<text transform="translate(392.4,216.05) scale(1,1.022)" font-size="80.7">TU1</text>
<rect x="183.5" y="282.80" width="196.0" height="12.6" rx="3.5" fill="#0000ff"/>
<text transform="translate(392.4,317.40) scale(1,1.022)" font-size="80.7">TU2</text>
<rect x="183.5" y="384.15" width="196.0" height="12.6" rx="3.5" fill="#008080"/>
<text transform="translate(392.4,418.75) scale(1,1.022)" font-size="80.7">TU3</text>
<rect x="183.5" y="485.50" width="196.0" height="12.6" rx="3.5" fill="#ff00ff"/>
<text transform="translate(392.4,520.10) scale(1,1.022)" font-size="80.7">TU4</text>
<rect x="183.5" y="586.85" width="196.0" height="12.6" rx="3.5" fill="#808000"/>
<text transform="translate(392.4,621.45) scale(1,1.022)" font-size="80.7">TU5</text>
</g>
<g id="note">
<text transform="translate(1101.5,160.3) scale(1.06,1)" font-size="95" style="font-weight:normal;stroke:#000;stroke-width:2.2px">λ</text>
<text transform="translate(1153.5,193.0) scale(1,1.025)" font-size="87.5">exc.</text>
<text transform="translate(1292.2,160.3) scale(1.2,1)" font-size="87.5">=</text>
<text transform="translate(1366.5,160.3) scale(1,1.025)" font-size="87.5">295.0</text>
<text transform="translate(1585.5,160.3) scale(1,1.025)" font-size="87.5">nm</text>
</g>
<g id="ticklabels">
<text transform="translate(167.5,1914.5) scale(1,1.012)" font-size="82" text-anchor="middle">350</text>
<text transform="translate(709.5,1914.5) scale(1,1.012)" font-size="82" text-anchor="middle">400</text>
<text transform="translate(1251.5,1914.5) scale(1,1.012)" font-size="82" text-anchor="middle">450</text>
<text transform="translate(1793.5,1914.5) scale(1,1.012)" font-size="82" text-anchor="middle">500</text>
<text transform="translate(2335.5,1914.5) scale(1,1.012)" font-size="82" text-anchor="middle">550</text>
</g>
<text id="xt" transform="translate(1251.5,2021.5) scale(1,1.025)" font-size="87.5" text-anchor="middle">Wavelength (nm)</text>
<text id="yt" transform="translate(101.0,1286.0) rotate(-90) scale(1,1.025)" font-size="87.5" letter-spacing="1.0">Absorbance (a. u.)</text>
</g>
</svg></body></html>
